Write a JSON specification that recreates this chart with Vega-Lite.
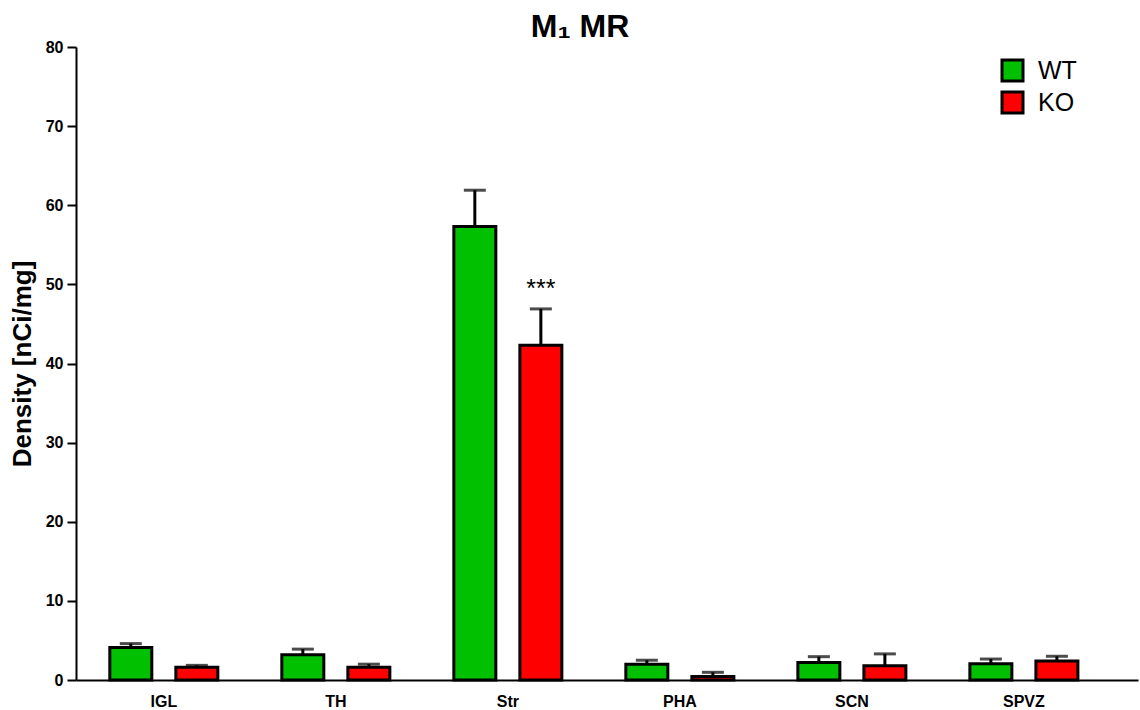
{
  "$schema": "https://vega.github.io/schema/vega-lite/v6.json",
  "width": 1062,
  "height": 633,
  "autosize": {"type": "none"},
  "padding": {"left": 76, "top": 47, "right": 2, "bottom": 30},
  "background": "white",
  "title": {"text": "M₁ MR", "font": "Liberation Sans", "fontSize": 32, "fontWeight": "bold", "color": "black", "anchor": "middle", "dx": -27, "offset": -5},
  "config": {"view": {"stroke": null}, "font": "Liberation Sans"},
  "data": {
    "values": [
      {"region": "IGL", "genotype": "WT", "mean": 4.1, "upper": 4.6, "sig": ""},
      {"region": "IGL", "genotype": "KO", "mean": 1.6, "upper": 1.85, "sig": ""},
      {"region": "TH", "genotype": "WT", "mean": 3.2, "upper": 3.9, "sig": ""},
      {"region": "TH", "genotype": "KO", "mean": 1.6, "upper": 2.0, "sig": ""},
      {"region": "Str", "genotype": "WT", "mean": 57.3, "upper": 61.9, "sig": ""},
      {"region": "Str", "genotype": "KO", "mean": 42.3, "upper": 46.9, "sig": "***"},
      {"region": "PHA", "genotype": "WT", "mean": 2.0, "upper": 2.5, "sig": ""},
      {"region": "PHA", "genotype": "KO", "mean": 0.45, "upper": 0.97, "sig": ""},
      {"region": "SCN", "genotype": "WT", "mean": 2.2, "upper": 2.95, "sig": ""},
      {"region": "SCN", "genotype": "KO", "mean": 1.8, "upper": 3.3, "sig": ""},
      {"region": "SPVZ", "genotype": "WT", "mean": 2.05, "upper": 2.65, "sig": ""},
      {"region": "SPVZ", "genotype": "KO", "mean": 2.4, "upper": 3.0, "sig": ""}
    ]
  },
  "encoding": {
    "x": {
      "field": "region", "type": "nominal",
      "sort": ["IGL", "TH", "Str", "PHA", "SCN", "SPVZ"],
      "scale": {"paddingInner": 0.372, "paddingOuter": 0.273, "align": 0.36},
      "axis": {"title": null, "labelAngle": 0, "ticks": false, "domainColor": "black", "domainWidth": 2, "labelFont": "Liberation Sans", "labelFontWeight": "bold", "labelFontSize": 16, "labelColor": "black", "labelPadding": 13}
    },
    "xOffset": {"field": "genotype", "type": "nominal", "sort": ["WT", "KO"], "scale": {"paddingInner": 0.364, "paddingOuter": 0}}
  },
  "layer": [
    {
      "mark": {"type": "bar", "stroke": "black", "strokeWidth": 3},
      "encoding": {
        "y": {
          "field": "mean", "type": "quantitative",
          "scale": {"domain": [0, 80], "nice": false},
          "axis": {
            "title": "Density [nCi/mg]",
            "values": [0, 5, 10, 15, 20, 25, 30, 35, 40, 45, 50, 55, 60, 65, 70, 75, 80],
            "labelExpr": "datum.value % 10 === 0 ? datum.label : ''",
            "tickSize": {"condition": {"test": "datum.value % 10 !== 0", "value": 4}, "value": 9},
            "grid": false,
            "domainColor": "black", "domainWidth": 2,
            "tickColor": "black", "tickWidth": 2,
            "labelFont": "Liberation Sans", "labelFontWeight": "bold", "labelFontSize": 16, "labelColor": "black", "labelPadding": 4,
            "titleFont": "Liberation Sans", "titleFontWeight": "bold", "titleFontSize": 26, "titleColor": "black", "titlePadding": 10
          }
        },
        "color": {
          "field": "genotype", "type": "nominal",
          "scale": {"domain": ["WT", "KO"], "range": ["#00C000", "#FF0000"]},
          "legend": {
            "title": null, "orient": "none", "legendX": 924, "legendY": 11, "padding": 0,
            "symbolType": "square", "symbolSize": 441, "symbolStrokeColor": "black", "symbolStrokeWidth": 3, "symbolOpacity": 1,
            "labelFont": "Liberation Sans", "labelFontSize": 25, "labelColor": "black", "labelOffset": 13, "rowPadding": -1
          }
        }
      }
    },
    {
      "mark": {"type": "rule", "color": "black", "strokeWidth": 3},
      "encoding": {
        "y": {"field": "mean", "type": "quantitative"},
        "y2": {"field": "upper"}
      }
    },
    {
      "mark": {"type": "tick", "color": "black", "thickness": 3, "size": 22, "orient": "horizontal"},
      "encoding": {"y": {"field": "upper", "type": "quantitative"}}
    },
    {
      "mark": {"type": "text", "fontSize": 25, "dy": -20, "font": "Liberation Sans", "color": "black"},
      "encoding": {"y": {"field": "upper", "type": "quantitative"}, "text": {"field": "sig"}}
    }
  ]
}
